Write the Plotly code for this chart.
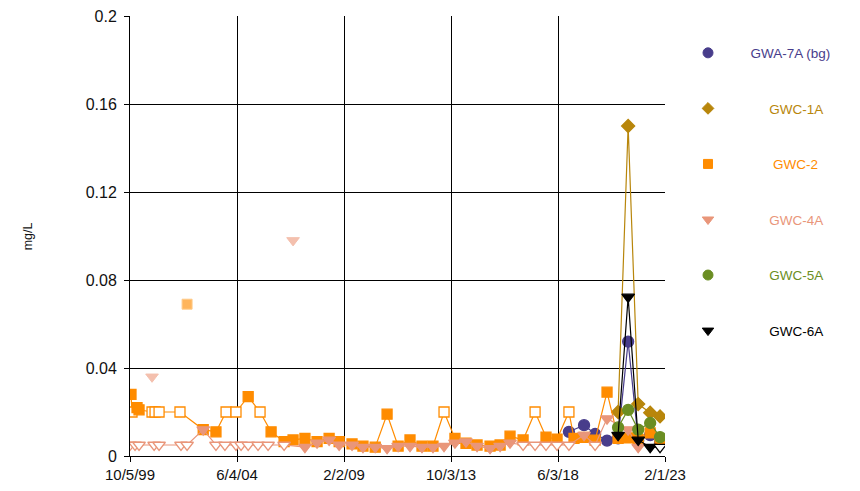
import plotly.graph_objects as go

# ---------------- data ----------------
tick_dates = ["1999-10-05", "2004-06-04", "2009-02-02", "2013-10-03", "2018-06-03", "2023-02-01"]
tick_labels = ["10/5/99", "6/4/04", "2/2/09", "10/3/13", "6/3/18", "2/1/23"]
y_ticks = [0, 0.04, 0.08, 0.12, 0.16, 0.2]
y_tick_labels = ["0", "0.04", "0.08", "0.12", "0.16", "0.2"]

gwa7a_dates = ["2018-11-24", "2019-07-23", "2020-01-15", "2020-07-23", "2021-01-15",
               "2021-06-24", "2021-12-01", "2022-06-10", "2022-11-14"]
gwa7a_vals = [0.011, 0.014, 0.010, 0.007, 0.008, 0.052, 0.007, 0.0095, 0.006]
gwa7a_nd = [0, 0, 0, 0, 0, 0, 0, 0, 0]

gwc1a_dates = ["2021-01-15", "2021-06-24", "2021-12-01", "2022-06-10", "2022-11-14"]
gwc1a_vals = [0.020, 0.150, 0.0236, 0.0197, 0.018]
gwc1a_nd = [0, 0, 0, 0, 0]

gwc2_dates = ["1999-10-21", "1999-11-06", "2000-01-25", "2000-02-26", "2000-09-20", "2000-11-07",
              "2001-01-10", "2001-12-09", "2002-12-14", "2003-07-05", "2003-12-13", "2004-05-19",
              "2004-11-29", "2005-06-06", "2005-11-29", "2006-06-24", "2006-11-14", "2007-05-22",
              "2007-12-01", "2008-06-10", "2008-11-17", "2009-06-10", "2009-12-01", "2010-06-14",
              "2010-12-20", "2011-06-14", "2011-12-20", "2012-06-28", "2012-12-20", "2013-06-14",
              "2013-12-05", "2014-05-30", "2014-11-22", "2015-06-17", "2015-11-24", "2016-04-30",
              "2016-11-24", "2017-06-03", "2017-11-24", "2018-05-19", "2018-11-24", "2019-02-13",
              "2019-07-23", "2020-01-15", "2020-07-23", "2021-01-15", "2021-06-24", "2021-12-01",
              "2022-06-10", "2022-11-14"]
gwc2_vals = [0.028, 0.020, 0.022, 0.021, 0.020, 0.020,
             0.020, 0.020, 0.012, 0.011, 0.020, 0.020,
             0.027, 0.020, 0.011, 0.0065, 0.0073, 0.008,
             0.0065, 0.008, 0.0065, 0.0055, 0.0045, 0.004,
             0.019, 0.0045, 0.0073, 0.0045, 0.0045, 0.020,
             0.008, 0.0058, 0.005, 0.0045, 0.005, 0.009,
             0.0073, 0.020, 0.0086, 0.0077, 0.020, 0.008,
             0.0085, 0.0072, 0.029, 0.008, 0.0082, 0.0075,
             0.0105, 0.007]
gwc2_nd = [0, 1, 0, 0, 1, 1,
           1, 1, 0, 0, 1, 1,
           0, 1, 0, 0, 0, 0,
           0, 0, 0, 0, 0, 0,
           0, 0, 0, 0, 0, 1,
           0, 0, 0, 0, 0, 0,
           0, 1, 0, 0, 1, 0,
           0, 0, 0, 0, 0, 0,
           0, 0]
gwc2_out_dates = ["2002-04-01"]
gwc2_out_vals = [0.069]

gwc4a_dates = ["1999-10-05", "1999-12-24", "2000-02-26", "2000-10-23", "2001-01-10", "2001-12-25",
               "2002-04-01", "2002-12-14", "2003-07-05", "2003-11-25", "2004-05-19", "2004-08-08",
               "2004-11-29", "2005-05-05", "2005-10-12", "2006-06-24", "2007-05-22", "2007-12-01",
               "2008-06-10", "2008-11-17", "2009-06-10", "2009-12-01", "2010-06-14", "2010-12-20",
               "2011-06-14", "2011-12-20", "2012-06-28", "2012-12-20", "2013-06-14", "2013-12-05",
               "2014-05-30", "2014-11-22", "2015-06-17", "2015-11-24", "2016-04-30", "2016-11-24",
               "2017-06-03", "2017-11-24", "2018-05-19", "2018-11-24", "2019-07-23", "2020-01-15",
               "2020-07-23", "2021-06-24", "2021-12-01"]
gwc4a_vals = [0.005, 0.005, 0.005, 0.005, 0.005, 0.005,
              0.005, 0.012, 0.005, 0.005, 0.005, 0.005,
              0.005, 0.005, 0.005, 0.005, 0.004, 0.006,
              0.0073, 0.005, 0.005, 0.004, 0.004, 0.0035,
              0.0045, 0.0045, 0.004, 0.004, 0.0045, 0.006,
              0.0065, 0.0045, 0.0035, 0.0045, 0.006, 0.005,
              0.005, 0.005, 0.005, 0.005, 0.0095, 0.005,
              0.017, 0.012, 0.004]
gwc4a_nd = [1, 1, 1, 1, 1, 1,
            1, 0, 1, 1, 1, 1,
            1, 1, 1, 1, 0, 0,
            0, 0, 0, 0, 0, 0,
            0, 0, 0, 0, 0, 0,
            0, 0, 0, 0, 0, 1,
            1, 1, 1, 1, 0, 1,
            0, 0, 0]
gwc4a_out_dates = ["2000-09-20", "2006-11-14"]
gwc4a_out_vals = [0.036, 0.098]

gwc5a_dates = ["2021-01-15", "2021-06-24", "2021-12-01", "2022-06-10", "2022-11-14"]
gwc5a_vals = [0.013, 0.021, 0.012, 0.015, 0.0086]
gwc5a_nd = [0, 0, 0, 0, 0]

gwc6a_dates = ["2021-01-15", "2021-06-24", "2021-12-01", "2022-06-10", "2022-11-14"]
gwc6a_vals = [0.0095, 0.0723, 0.0073, 0.004, 0.004]
gwc6a_nd = [0, 0, 0, 0, 1]

# ---------------- styling ----------------
FONT = "Liberation Sans, Arial, sans-serif"
series = [
    ("GWA-7A (bg)", gwa7a_dates, gwa7a_vals, gwa7a_nd, "#483D8B", "circle", 11, 6),
    ("GWC-1A", gwc1a_dates, gwc1a_vals, gwc1a_nd, "#B8860B", "diamond", 10, 11),
    ("GWC-2", gwc2_dates, gwc2_vals, gwc2_nd, "#FF8C00", "square", 10, 12),
    ("GWC-4A", gwc4a_dates, gwc4a_vals, gwc4a_nd, "#E9967A", "triangle-down", 11, 11),
    ("GWC-5A", gwc5a_dates, gwc5a_vals, gwc5a_nd, "#6B8E23", "circle", 11, 11),
    ("GWC-6A", gwc6a_dates, gwc6a_vals, gwc6a_nd, "#000000", "triangle-down", 11, 11),
]

fig = go.Figure()

# outliers (not connected)
fig.add_trace(go.Scatter(x=gwc2_out_dates, y=gwc2_out_vals, mode="markers", showlegend=False,
                         marker=dict(symbol="square", size=10, color="#FFB55C",
                                     line=dict(color="#FFCB8A", width=1))))
fig.add_trace(go.Scatter(x=gwc4a_out_dates, y=gwc4a_out_vals, mode="markers", showlegend=False,
                         marker=dict(symbol="triangle-down", size=11, color="#F4C0AE",
                                     line=dict(color="#F4C0AE", width=1))))

for name, xs, ys, nd, col, sym, sz, pad in series:
    fills = ["white" if n else col for n in nd]
    fig.add_trace(go.Scatter(
        x=xs, y=ys, mode="lines+markers", showlegend=False,
        line=dict(color=col, width=1.2),
        marker=dict(symbol=sym, size=sz, color=fills, line=dict(color=col, width=1.3)),
    ))

for name, xs, ys, nd, col, sym, sz, pad in series:
    label = "&nbsp;" * pad + f'<span style="color:{col}">{name}</span>'
    fig.add_trace(go.Scatter(
        x=[None], y=[None], mode="markers", name=label, legendgroup=name,
        marker=dict(symbol=sym, size=sz - 1, color=col, line=dict(color=col, width=1)),
    ))

fig.update_layout(
    width=860, height=491,
    margin=dict(l=130, r=195, t=16, b=35, autoexpand=False),
    paper_bgcolor="white", plot_bgcolor="white",
    font=dict(family=FONT, size=15, color="#111111"),
    legend=dict(x=1.043, xanchor="left", y=0.951, yanchor="top",
                font=dict(family=FONT, size=13.5), tracegroupgap=35,
                bgcolor="rgba(0,0,0,0)", itemwidth=30),
    xaxis=dict(type="date", range=[tick_dates[0], tick_dates[-1]],
               tickvals=tick_dates, ticktext=tick_labels,
               showgrid=True, gridcolor="#000000", gridwidth=1,
               showline=True, linecolor="#000000", linewidth=1,
               ticks="outside", ticklen=5, tickcolor="#000000",
               zeroline=False, tickfont=dict(size=15)),
    yaxis=dict(range=[0, 0.2], tickvals=y_ticks, ticktext=y_tick_labels,
               showgrid=True, gridcolor="#000000", gridwidth=1,
               showline=True, linecolor="#000000", linewidth=1,
               ticks="outside", ticklen=5, tickcolor="#000000",
               zeroline=False, tickfont=dict(size=16), ticklabelstandoff=4),
    annotations=[dict(text="mg/L", xref="paper", yref="paper", x=-0.19, y=0.5,
                      xanchor="center", yanchor="middle",
                      textangle=-90, showarrow=False, font=dict(size=12.5, family=FONT))],
)

fig.write_html("out.html", config={"displayModeBar": False})

# remove default page margin so the figure sits at the window's top-left corner
with open("out.html", "r", encoding="utf-8") as f:
    html = f.read()
html = html.replace("<body>", '<body style="margin:0;padding:0">', 1)
with open("out.html", "w", encoding="utf-8") as f:
    f.write(html)
